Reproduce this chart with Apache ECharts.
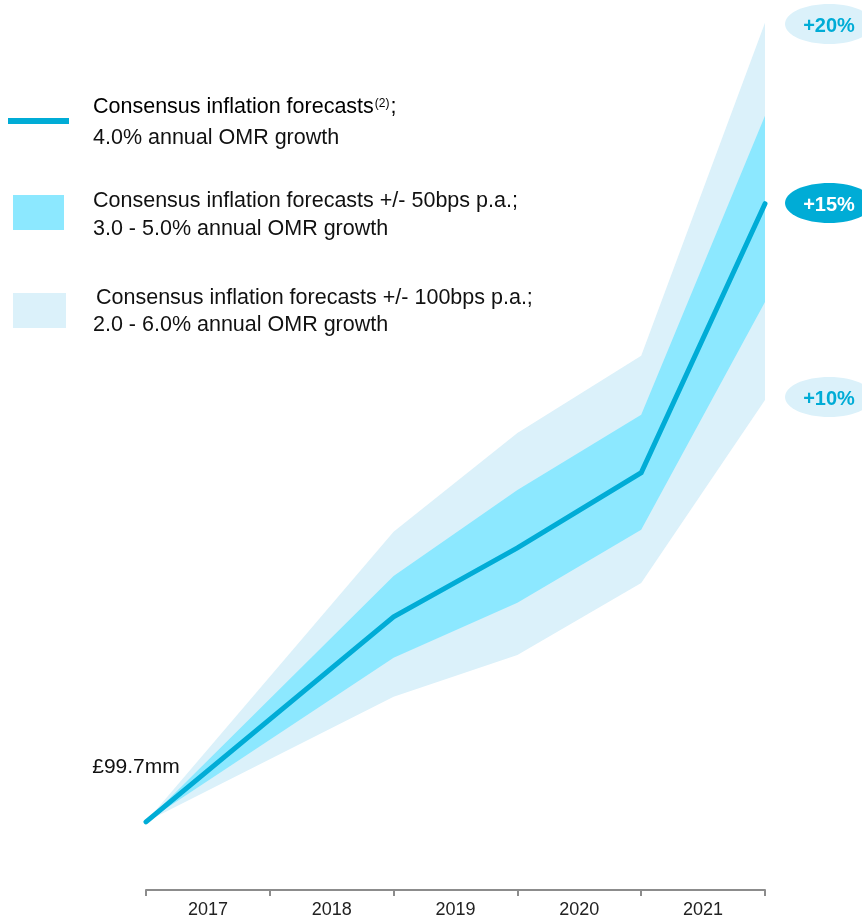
<!DOCTYPE html>
<html>
<head>
<meta charset="utf-8">
<title>OMR growth scenarios</title>
<script src="https://cdn.jsdelivr.net/npm/echarts@6/dist/echarts.min.js"></script>
<style>
  html, body { margin: 0; padding: 0; background: #ffffff; }
  #chart { width: 862px; height: 921px; }
</style>
</head>
<body>
<div id="chart"></div>
<script>
// Period labels shown between the axis ticks
const years = ['2017', '2018', '2019', '2020', '2021'];

// Positions along the period axis (0 = start of 2017, 5 = end of 2021)
const periodPos = [0, 2, 3, 4, 5];

// OMR (£mm) under consensus inflation
const central = [99.7, 104.66, 106.33, 108.15, 114.66];
// +/- 50bps p.a. band
const innerLow = [99.7, 103.67, 105.00, 106.77, 112.28];
const innerHigh = [99.7, 105.65, 107.73, 109.55, 116.79];
// +/- 100bps p.a. band
const outerLow = [99.7, 102.73, 103.74, 105.48, 109.91];
const outerHigh = [99.7, 106.72, 109.11, 110.98, 119.04];

// Uplift markers at the right edge
const upliftLabels = ['+20%', '+15%', '+10%'];

const LINE = '#00acd6';
const INNER = '#8ce8ff';
const OUTER = '#dbf1fa';
const FONT = '"Liberation Sans", Arial, sans-serif';

const pairs = (xs, ys) => xs.map((x, i) => [x, ys[i]]);
const bandRows = (lo, hi) => periodPos.map((x, i) => [x, lo[i], hi[i]]);

// Draws a whole band as one polygon: upper edge left-to-right, lower edge back
function bandRenderer(color) {
  return function (params, api) {
    if (params.dataIndexInside !== 0) return null;
    const n = params.dataInsideLength;
    const upper = [];
    const lower = [];
    for (let i = 0; i < n; i++) {
      const x = api.value(0, i);
      upper.push(api.coord([x, api.value(2, i)]));
      lower.push(api.coord([x, api.value(1, i)]));
    }
    return {
      type: 'polygon',
      shape: { points: upper.concat(lower.reverse()) },
      style: { fill: color }
    };
  };
}

const chart = echarts.init(document.getElementById('chart'), null, { renderer: 'canvas' });

const legendText = (x, y, text) => ({
  type: 'text',
  style: { x, y, text, font: '21.5px ' + FONT, fill: '#111', textVerticalAlign: 'middle' }
});

const pill = (cy, text, bg, fg) => [
  { type: 'ellipse', shape: { cx: 829, cy, rx: 44, ry: 20 }, style: { fill: bg } },
  { type: 'text', style: { x: 829, y: cy + 2, text, font: 'bold 20px ' + FONT, fill: fg, textAlign: 'center', textVerticalAlign: 'middle' } }
];

chart.setOption({
  animation: false,
  backgroundColor: '#ffffff',
  grid: { left: 146, right: 97, top: 0, bottom: 31 },
  xAxis: [
    {
      type: 'category',
      data: years,
      boundaryGap: true,
      axisLine: { show: true, lineStyle: { color: '#8c8c8c', width: 2 } },
      axisTick: { show: true, length: 6, inside: false, lineStyle: { color: '#8c8c8c', width: 2 } },
      axisLabel: { color: '#222', fontSize: 18, fontFamily: FONT, margin: 11 },
      splitLine: { show: false }
    },
    {
      type: 'value',
      min: 0,
      max: 5,
      show: false
    }
  ],
  yAxis: {
    type: 'value',
    min: 98.05,
    max: 119.59,
    show: false
  },
  series: [
    {
      type: 'custom', name: 'outerBand', xAxisIndex: 1,
      data: bandRows(outerLow, outerHigh),
      encode: { x: 0, y: [1, 2] },
      renderItem: bandRenderer(OUTER),
      silent: true, z: 1
    },
    {
      type: 'custom', name: 'innerBand', xAxisIndex: 1,
      data: bandRows(innerLow, innerHigh),
      encode: { x: 0, y: [1, 2] },
      renderItem: bandRenderer(INNER),
      silent: true, z: 2
    },
    {
      type: 'line', name: 'central', xAxisIndex: 1,
      data: pairs(periodPos, central),
      showSymbol: false,
      lineStyle: { color: LINE, width: 5, cap: 'round', join: 'miter' },
      z: 5
    },
    {
      type: 'scatter', name: 'start', xAxisIndex: 1,
      data: [[periodPos[0], central[0]]],
      symbolSize: 1,
      itemStyle: { opacity: 0 },
      label: {
        show: true,
        position: 'top',
        distance: 0,
        offset: [-10, -44],
        formatter: (p) => '£' + p.value[1].toFixed(1) + 'mm',
        color: '#111',
        fontSize: 21,
        fontFamily: FONT,
        opacity: 1
      },
      z: 6
    }
  ],
  graphic: [
    // legend swatches
    { type: 'rect', shape: { x: 8, y: 118, width: 61, height: 6 }, style: { fill: LINE } },
    { type: 'rect', shape: { x: 13, y: 195, width: 51, height: 35 }, style: { fill: INNER } },
    { type: 'rect', shape: { x: 13, y: 293, width: 53, height: 35 }, style: { fill: OUTER } },
    // legend texts
    {
      type: 'text',
      style: {
        x: 93, y: 107,
        text: '{a|Consensus inflation forecasts}{s|(2)}{a|;}',
        textVerticalAlign: 'middle',
        rich: {
          a: { fontSize: 21.5, fontFamily: FONT, color: '#111', height: 24 },
          s: { fontSize: 12, fontFamily: FONT, color: '#111', verticalAlign: 'top', height: 24, padding: [0, 1, 6, 1] }
        }
      }
    },
    legendText(93, 138.5, '4.0% annual OMR growth'),
    legendText(93, 201, 'Consensus inflation forecasts +/- 50bps p.a.;'),
    legendText(93, 229.5, '3.0 - 5.0% annual OMR growth'),
    legendText(96, 298, 'Consensus inflation forecasts +/- 100bps p.a.;'),
    legendText(93, 325, '2.0 - 6.0% annual OMR growth'),
    // uplift pills
    ...pill(24, upliftLabels[0], OUTER, LINE),
    ...pill(203, upliftLabels[1], LINE, '#ffffff'),
    ...pill(397, upliftLabels[2], OUTER, LINE)
  ]
});
</script>
</body>
</html>
